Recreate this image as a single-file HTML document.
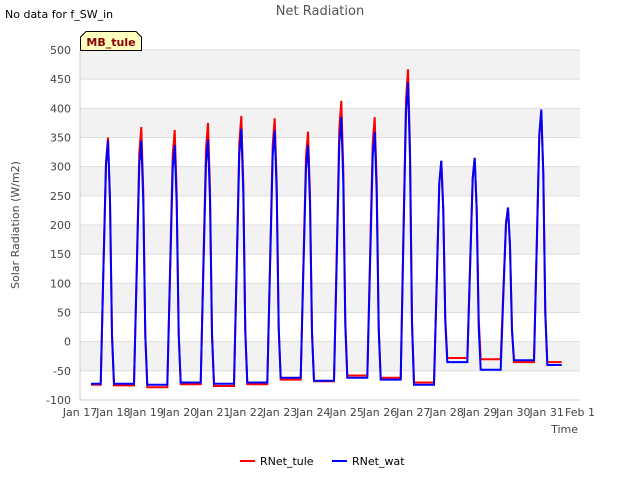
<!DOCTYPE html>
<html><head><meta charset="utf-8"><style>
body{margin:0;background:#fff;font-family:"Liberation Sans","DejaVu Sans",sans-serif}
svg text{font-family:"DejaVu Sans","Liberation Sans",sans-serif}
</style></head><body>
<svg id="c" width="640" height="480" viewBox="0 0 640 480" xmlns="http://www.w3.org/2000/svg">
<rect width="640" height="480" fill="#fff"/>
<g id="bands"></g>
<g id="grid"></g>
<g id="yticks" font-size="11" fill="#444" text-anchor="end"></g>
<g id="xticks" font-size="11" fill="#444" text-anchor="middle"></g>
<line x1="80" y1="50" x2="80" y2="400" stroke="#ccc"/>
<line x1="80" y1="400" x2="580" y2="400" stroke="#ccc"/>
<g id="series"></g>
<text x="320" y="15" font-size="13" fill="#555" text-anchor="middle">Net Radiation</text>
<text x="5" y="18" font-size="11" fill="#000">No data for f_SW_in</text>
<g>
<path d="M80.5,50.5 L80.5,37 L86,31.5 L136,31.5 L141.5,37 L141.5,50.5 Z" fill="#ffffc0" stroke="#000"/>
<text x="111" y="46" font-size="11" font-weight="bold" fill="#8b0000" text-anchor="middle">MB_tule</text>
</g>
<text x="19" y="225" font-size="11" fill="#444" text-anchor="middle" transform="rotate(-90 19 225)">Solar Radiation (W/m2)</text>
<text x="578" y="433" font-size="11" fill="#444" text-anchor="end">Time</text>
<g>
<line x1="240" y1="461" x2="255" y2="461" stroke="#f00" stroke-width="2"/>
<text x="260" y="465" font-size="11" fill="#000">RNet_tule</text>
</g>
<g>
<line x1="332" y1="461" x2="347" y2="461" stroke="#00f" stroke-width="2"/>
<text x="352" y="465" font-size="11" fill="#000">RNet_wat</text>
</g>
</svg>
<script>
const yTicks=[-100,-50,0,50,100,150,200,250,300,350,400,450,500];
const xTickLabels=["Jan 17","Jan 18","Jan 19","Jan 20","Jan 21","Jan 22","Jan 23","Jan 24","Jan 25","Jan 26","Jan 27","Jan 28","Jan 29","Jan 30","Jan 31","Feb 1"];
const peakTule=[350,368,363,375,387,383,360,413,385,467,310,315,230,395];
const peakWat=[345,345,337,347,365,362,337,385,360,445,310,315,230,398];
const nightTule=[-74,-75,-78,-73,-76,-73,-65,-68,-58,-62,-70,-28,-30,-35,-35];
const nightWat=[-72,-72,-74,-70,-72,-70,-62,-67,-62,-65,-74,-35,-48,-32,-40];
const NS="http://www.w3.org/2000/svg";
const X0=80,X1=580,Y0=400,Y1=50;
const xS=d=>X0+(X1-X0)*d/15;
const yS=v=>Y0+(Y1-Y0)*(v+100)/600;
const bands=document.getElementById('bands'),grid=document.getElementById('grid');
for(let i=0;i<yTicks.length-1;i++){
 const top=yTicks[yTicks.length-1-i];
 if(i%2===0){const r=document.createElementNS(NS,'rect');
 r.setAttribute('x',X0);r.setAttribute('y',yS(top));r.setAttribute('width',X1-X0);r.setAttribute('height',yS(top-50)-yS(top));r.setAttribute('fill','#f2f2f2');
 
 
 bands.appendChild(r);}
}
yTicks.forEach(v=>{
 const l=document.createElementNS(NS,'line');
 l.setAttribute('x1',X0);l.setAttribute('x2',X1);l.setAttribute('y1',yS(v));l.setAttribute('y2',yS(v));l.setAttribute('stroke','#ddd');
 
 
 grid.appendChild(l);
 const t=document.createElementNS(NS,'text');
 t.setAttribute('x',X0-9);t.setAttribute('y',yS(v)+4);t.textContent=v;
 
 
 document.getElementById('yticks').appendChild(t);
});
xTickLabels.forEach((s,i)=>{
 const t=document.createElementNS(NS,'text');
 t.setAttribute('x',xS(i));t.setAttribute('y',416);t.textContent=s;
 
 
 document.getElementById('xticks').appendChild(t);
});
function build(peaks,nights){
 const pts=[[0.33,nights[0]]];
 peaks.forEach((p,k)=>{
  const n=nights[k],n2=nights[k+1];
  pts.push([k+0.62,n]);pts.push([k+0.70,n+0.45*(p-n)]);pts.push([k+0.78,n+0.9*(p-n)]);
  pts.push([k+0.84,p]);pts.push([k+0.90,n2+0.75*(p-n2)]);pts.push([k+0.96,n2+0.2*(p-n2)]);
  pts.push([k+1.02,n2]);
 });
 pts.push([14.45,nights[14]]);
 return pts;
}
function draw(pts,col,name){
 const p=document.createElementNS(NS,'polyline');
 p.setAttribute('points',pts.map(q=>xS(q[0]).toFixed(1)+','+yS(q[1]).toFixed(1)).join(' '));
 p.setAttribute('fill','none');p.setAttribute('stroke',col);p.setAttribute('stroke-width','2');
 
 
 document.getElementById('series').appendChild(p);
}
draw(build(peakTule,nightTule),'#f00','rnet-tule-line');
draw(build(peakWat,nightWat),'#00f','rnet-wat-line');
</script>
</body></html>
